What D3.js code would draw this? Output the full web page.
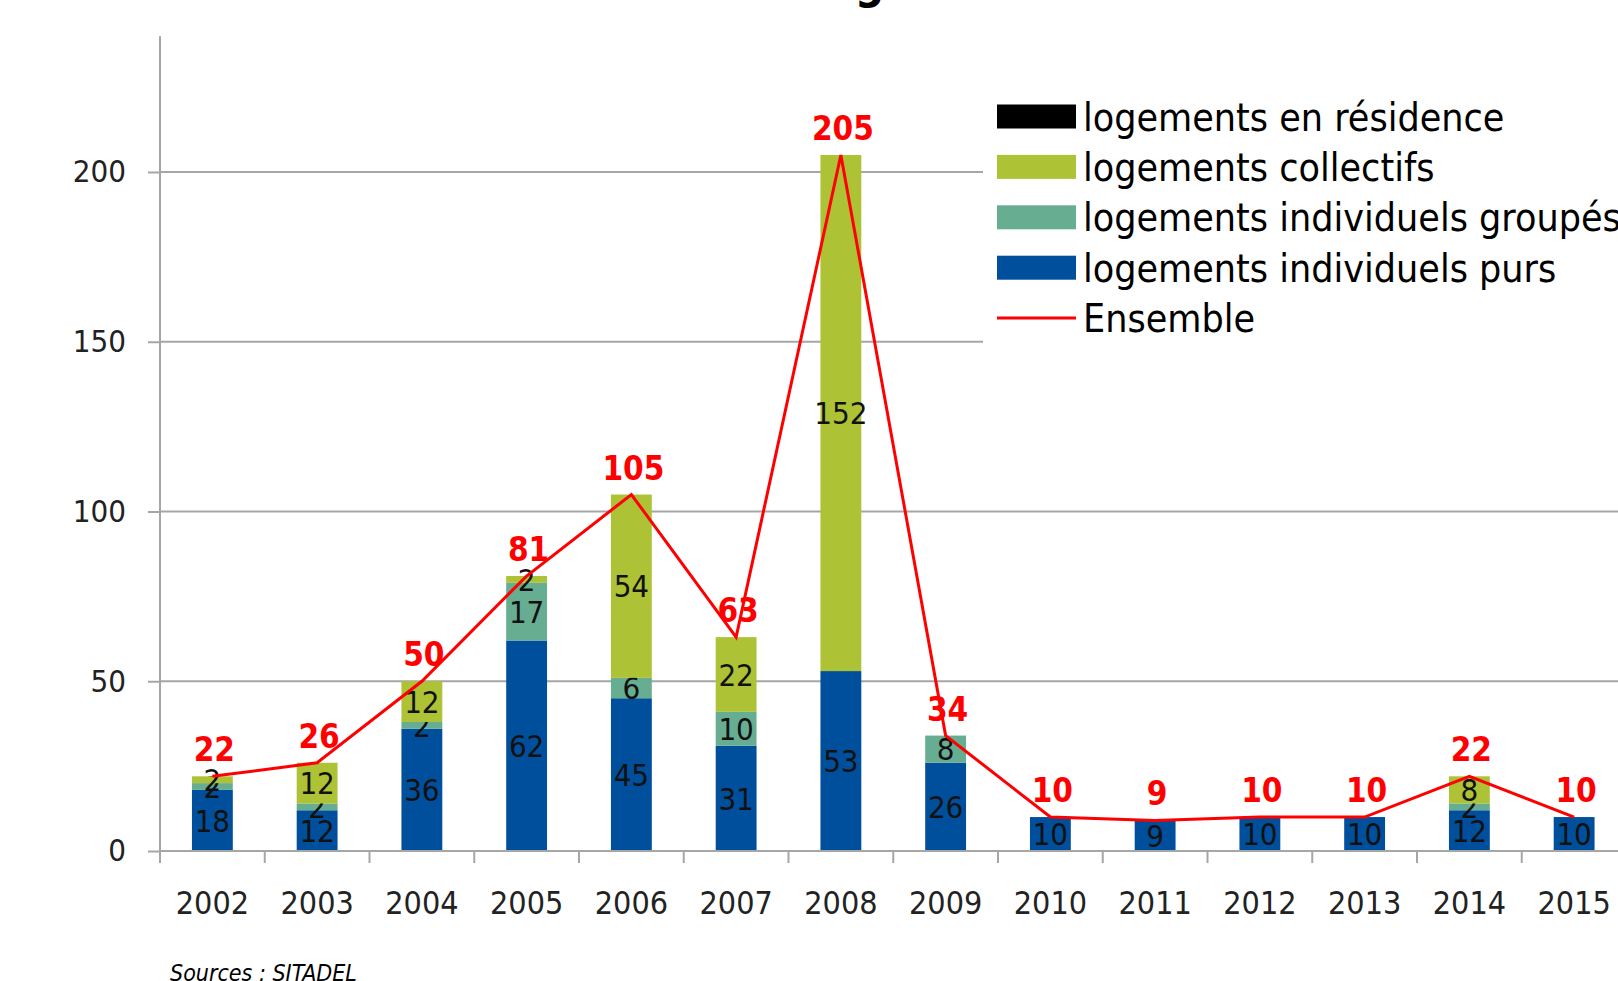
<!DOCTYPE html>
<html>
<head>
<meta charset="utf-8">
<script src="https://cdn.jsdelivr.net/npm/d3@7"></script>
<style>
body { margin: 0; background: #fff; }
svg { display: block; }
text { font-family: "DejaVu Sans Condensed", "DejaVu Sans", sans-serif; font-stretch: condensed; }
</style>
</head>
<body>
<div id="chart"></div>
<script>
// data
var years = [2002, 2003, 2004, 2005, 2006, 2007, 2008, 2009, 2010, 2011, 2012, 2013, 2014, 2015];
var purs = [18, 12, 36, 62, 45, 31, 53, 26, 10, 9, 10, 10, 12, 10];
var groupes = [2, 2, 2, 17, 6, 10, 0, 8, 0, 0, 0, 0, 2, 0];
var collectifs = [2, 12, 12, 2, 54, 22, 152, 0, 0, 0, 0, 0, 8, 0];
var residence = [0, 0, 0, 0, 0, 0, 0, 0, 0, 0, 0, 0, 0, 0];
var ensemble = [22, 26, 50, 81, 105, 63, 205, 34, 10, 9, 10, 10, 22, 10];
var yTicks = [0, 50, 100, 150, 200];
var seriesNames = ["logements individuels purs", "logements individuels groupés", "logements collectifs", "logements en résidence"];
var legendNames = ["logements en résidence", "logements collectifs", "logements individuels groupés", "logements individuels purs", "Ensemble"];

var colors = {
    "logements individuels purs": "#004f9c",
    "logements individuels groupés": "#66ad91",
    "logements collectifs": "#adc235",
    "logements en résidence": "#000000",
    "Ensemble": "#ff0000"
};

var W = 1618, H = 981;

var svg = d3.select("#chart").append("svg")
    .attr("width", W)
    .attr("height", H);

// set the ranges
var x = d3.scaleBand()
    .domain(years)
    .range([160, 1626.5])
    .padding(0);
var y = d3.scaleLinear()
    .domain([0, 200])
    .range([851, 172]);

var barW = x.bandwidth() * 0.39;

// title (mostly cut off at the top, as in the source)
svg.append("text")
    .attr("x", 800)
    .attr("y", -2)
    .style("font-size", "46px")
    .style("font-weight", "bold")
    .attr("fill", "#000")
    .text("Logements commencés");

// gridlines
svg.append("g")
    .selectAll("line")
    .data(yTicks.filter(function (d) { return d > 0; }))
    .enter().append("line")
    .attr("x1", 160)
    .attr("x2", W)
    .attr("y1", function (d) { return y(d); })
    .attr("y2", function (d) { return y(d); })
    .attr("stroke", "#a6a6a6")
    .attr("stroke-width", 2);

// stacked bars
var table = years.map(function (yr, i) {
    return {
        year: yr,
        "logements individuels purs": purs[i],
        "logements individuels groupés": groupes[i],
        "logements collectifs": collectifs[i],
        "logements en résidence": residence[i]
    };
});
var stack = d3.stack().keys(seriesNames)(table);

var layers = svg.append("g")
    .selectAll("g")
    .data(stack)
    .enter().append("g")
    .attr("fill", function (d) { return colors[d.key]; });

layers.selectAll("rect")
    .data(function (d) { return d; })
    .enter().append("rect")
    .attr("x", function (d) { return x(d.data.year) + (x.bandwidth() - barW) / 2; })
    .attr("width", barW)
    .attr("y", function (d) { return y(d[1]); })
    .attr("height", function (d) { return y(d[0]) - y(d[1]); });

// segment labels
layers.selectAll("text")
    .data(function (d) { return d.filter(function (s) { return s[1] - s[0] > 0; }); })
    .enter().append("text")
    .attr("x", function (d) { return x(d.data.year) + x.bandwidth() / 2; })
    .attr("y", function (d) { return y((d[0] + d[1]) / 2); })
    .attr("dy", "0.36em")
    .attr("text-anchor", "middle")
    .attr("fill", "#111")
    .style("font-size", "31px")
    .text(function (d) { return d[1] - d[0]; });

// y axis
var yAxis = svg.append("g")
    .attr("transform", "translate(160,0)")
    .call(d3.axisLeft(y).tickValues(yTicks).tickSize(12).tickSizeOuter(0).tickPadding(22));
yAxis.select(".domain").remove();
yAxis.selectAll("line").attr("stroke", "#a6a6a6").attr("stroke-width", 2);
yAxis.selectAll("text").style("font-size", "31px").attr("fill", "#222");
svg.append("line")
    .attr("x1", 160).attr("x2", 160)
    .attr("y1", y(0) + 12).attr("y2", y(240))
    .attr("stroke", "#a6a6a6")
    .attr("stroke-width", 2);

// x axis
var xAxis = svg.append("g")
    .attr("transform", "translate(0," + y(0) + ")")
    .call(d3.axisBottom(x).tickSize(0).tickPadding(40));
xAxis.select(".domain").remove();
xAxis.selectAll("text").style("font-size", "32px").attr("fill", "#222");
svg.append("line")
    .attr("x1", 160).attr("x2", W)
    .attr("y1", y(0)).attr("y2", y(0))
    .attr("stroke", "#a6a6a6")
    .attr("stroke-width", 2);
svg.append("g")
    .selectAll("line")
    .data(years)
    .enter().append("line")
    .attr("x1", function (d) { return x(d); })
    .attr("x2", function (d) { return x(d); })
    .attr("y1", y(0))
    .attr("y2", y(0) + 12)
    .attr("stroke", "#a6a6a6")
    .attr("stroke-width", 2);

// Ensemble line
var line = d3.line()
    .x(function (d, i) { return x(years[i]) + x.bandwidth() / 2; })
    .y(function (d) { return y(d); });

svg.append("path")
    .datum(ensemble)
    .attr("d", line)
    .attr("fill", "none")
    .attr("stroke", colors["Ensemble"])
    .attr("stroke-width", 3);

svg.append("g")
    .selectAll("text")
    .data(ensemble)
    .enter().append("text")
    .attr("x", function (d, i) { return x(years[i]) + x.bandwidth() / 2 + 2; })
    .attr("y", function (d) { return y(d) - 15; })
    .attr("text-anchor", "middle")
    .attr("fill", colors["Ensemble"])
    .style("font-size", "33px")
    .style("font-weight", "bold")
    .text(function (d) { return d; });

// legend
var legend = svg.append("g");
legend.append("rect")
    .attr("x", 983).attr("y", 90)
    .attr("width", W - 983).attr("height", 262)
    .attr("fill", "#fff");

var item = legend.selectAll("g")
    .data(legendNames)
    .enter().append("g")
    .attr("transform", function (d, i) { return "translate(997," + (116.5 + i * 50.4) + ")"; });

item.filter(function (d) { return d != "Ensemble"; })
    .append("rect")
    .attr("x", 0).attr("y", -12)
    .attr("width", 79).attr("height", 24)
    .attr("fill", function (d) { return colors[d]; });

item.filter(function (d) { return d == "Ensemble"; })
    .append("line")
    .attr("x1", 0).attr("x2", 79)
    .attr("y1", 0).attr("y2", 0)
    .attr("stroke", colors["Ensemble"])
    .attr("stroke-width", 3);

item.append("text")
    .attr("x", 86)
    .attr("dy", "0.36em")
    .attr("fill", "#000")
    .style("font-size", "39px")
    .text(function (d) { return d; });

// source
svg.append("text")
    .attr("x", 170)
    .attr("y", 981)
    .style("font-size", "23px")
    .style("font-style", "italic")
    .attr("fill", "#000")
    .text("Sources : SITADEL");
</script>
</body>
</html>
